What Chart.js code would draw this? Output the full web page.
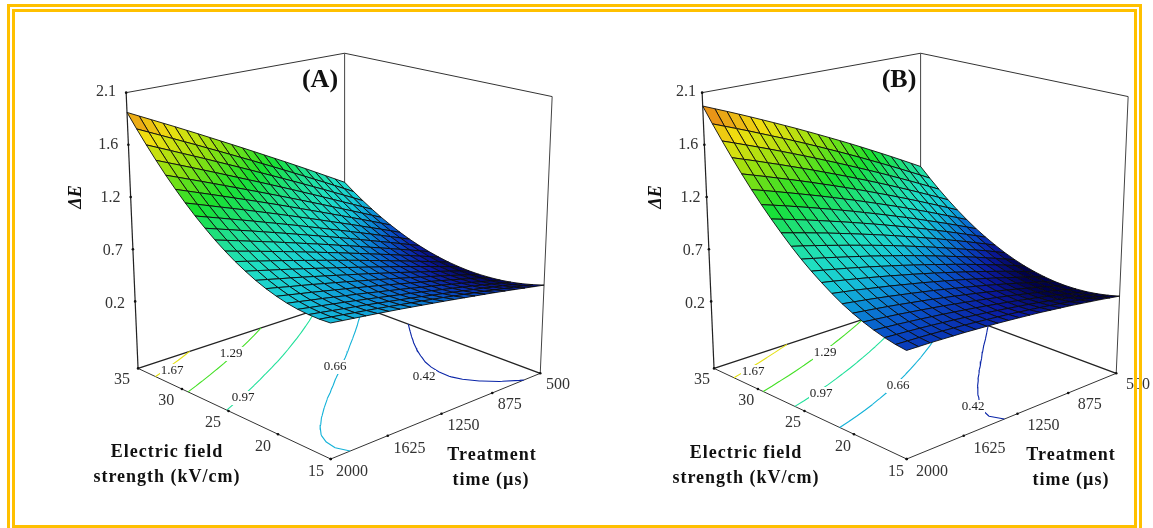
<!DOCTYPE html>
<html>
<head>
<meta charset="utf-8">
<title>Response surfaces</title>
<script src="https://cdn.jsdelivr.net/npm/chart.js@4"></script>
<style>
html, body { margin: 0; padding: 0; background: #fff; overflow: hidden; }
#wrap { position: relative; width: 1153px; height: 528px; overflow: hidden; }
#moldura { position: absolute; left: 7px; top: 4px; width: 1119px; height: 513px; border: 8px double #ffc000; pointer-events: none; }
canvas { display: block; }
</style>
</head>
<body>
<div id="wrap">
<canvas id="grafico" width="1153" height="528"></canvas>
<div id="moldura"></div>
</div>
<script>
// eixos
const fieldValues = [15, 16, 17, 18, 19, 20, 21, 22, 23, 24, 25, 26, 27, 28, 29, 30, 31, 32, 33, 34, 35];
const timeValues = [500, 575, 650, 725, 800, 875, 950, 1025, 1100, 1175, 1250, 1325, 1400, 1475, 1550, 1625, 1700, 1775, 1850, 1925, 2000];
const fieldTicks = [35, 30, 25, 20, 15];
const timeTicks = [2000, 1625, 1250, 875, 500];
const zTickValues = [0.2, 0.675, 1.15, 1.625, 2.1];
const zTickLabels = ['0.2', '0.7', '1.2', '1.6', '2.1'];
const contourLevels = [0.42, 0.66, 0.97, 1.29, 1.67];

// linhas = campo, colunas = tempo
const zValuesA = [
[.390,.407,.424,.441,.458,.474,.490,.505,.520,.535,.550,.564,.578,.592,.606,.619,.632,.644,.656,.668,.680],
[.362,.381,.399,.417,.435,.452,.469,.486,.502,.519,.535,.550,.565,.580,.595,.610,.624,.637,.651,.664,.677],
[.339,.359,.379,.398,.418,.436,.454,.472,.490,.507,.525,.542,.559,.575,.591,.607,.622,.637,.652,.667,.681],
[.321,.342,.363,.384,.405,.425,.445,.464,.483,.502,.521,.539,.557,.575,.593,.610,.627,.643,.659,.675,.691],
[.308,.331,.353,.376,.398,.419,.441,.462,.482,.503,.523,.543,.562,.582,.601,.619,.638,.656,.673,.691,.708],
[.301,.326,.350,.374,.397,.420,.443,.466,.488,.510,.532,.554,.575,.596,.616,.636,.656,.676,.695,.714,.733],
[.298,.324,.350,.376,.401,.426,.450,.475,.499,.523,.546,.569,.592,.615,.637,.659,.681,.702,.722,.744,.764],
[.300,.328,.356,.383,.410,.437,.463,.490,.515,.541,.566,.591,.615,.640,.664,.688,.712,.735,.757,.780,.802],
[.308,.338,.367,.397,.426,.454,.483,.511,.538,.566,.593,.620,.646,.673,.699,.724,.750,.775,.799,.824,.848],
[.320,.352,.383,.415,.445,.476,.506,.537,.566,.596,.625,.653,.682,.710,.738,.766,.793,.820,.846,.873,.899],
[.338,.371,.405,.438,.471,.504,.536,.568,.600,.631,.663,.693,.724,.754,.784,.814,.843,.872,.901,.929,.958],
[.360,.396,.432,.467,.502,.537,.571,.606,.640,.673,.707,.740,.772,.805,.837,.869,.900,.931,.962,.993,1.023],
[.388,.426,.464,.502,.539,.576,.613,.650,.686,.722,.757,.792,.827,.862,.896,.930,.964,.997,1.030,1.063,1.096],
[.420,.461,.501,.541,.581,.620,.659,.698,.736,.774,.812,.850,.887,.924,.960,.997,1.033,1.068,1.104,1.139,1.174],
[.458,.501,.544,.586,.628,.670,.711,.752,.793,.834,.874,.914,.954,.993,1.032,1.071,1.109,1.147,1.185,1.223,1.260],
[.501,.547,.592,.637,.681,.725,.769,.813,.856,.899,.942,.985,1.027,1.069,1.110,1.151,1.192,1.233,1.273,1.313,1.353],
[.548,.596,.644,.691,.738,.785,.832,.878,.924,.970,1.015,1.060,1.105,1.149,1.193,1.237,1.281,1.324,1.367,1.410,1.452],
[.601,.652,.702,.752,.802,.852,.901,.950,.999,1.047,1.095,1.143,1.190,1.237,1.284,1.331,1.377,1.423,1.469,1.514,1.559],
[.659,.713,.766,.819,.872,.924,.976,1.028,1.079,1.130,1.181,1.232,1.282,1.332,1.381,1.431,1.480,1.528,1.577,1.625,1.673],
[.722,.779,.835,.891,.946,1.001,1.056,1.111,1.165,1.219,1.273,1.326,1.379,1.432,1.484,1.537,1.588,1.640,1.691,1.742,1.793],
[.790,.849,.908,.967,1.026,1.084,1.142,1.199,1.256,1.313,1.370,1.426,1.482,1.538,1.594,1.649,1.704,1.758,1.812,1.866,1.920]
];
const zValuesB = [
[.290,.305,.320,.333,.346,.359,.370,.381,.392,.401,.410,.418,.426,.432,.438,.444,.448,.452,.456,.458,.460],
[.265,.282,.298,.314,.329,.343,.357,.370,.382,.393,.404,.414,.423,.432,.440,.447,.454,.460,.465,.469,.473],
[.246,.265,.284,.301,.318,.334,.350,.365,.379,.392,.405,.417,.428,.439,.449,.458,.467,.475,.482,.488,.494],
[.233,.254,.274,.294,.313,.331,.349,.366,.382,.397,.412,.426,.439,.452,.464,.475,.486,.496,.505,.513,.521],
[.226,.249,.271,.293,.314,.334,.354,.373,.391,.408,.425,.441,.456,.471,.485,.498,.511,.523,.534,.544,.554],
[.225,.250,.274,.298,.321,.343,.365,.386,.406,.425,.444,.462,.479,.496,.512,.527,.542,.556,.569,.581,.593],
[.230,.257,.284,.309,.334,.358,.382,.405,.427,.448,.469,.489,.509,.527,.545,.562,.579,.595,.610,.624,.638],
[.242,.271,.300,.327,.354,.381,.406,.431,.456,.479,.502,.524,.546,.566,.586,.606,.624,.642,.660,.676,.692],
[.260,.291,.322,.352,.381,.409,.437,.464,.490,.516,.541,.565,.589,.611,.634,.655,.676,.696,.715,.734,.752],
[.283,.317,.349,.381,.412,.443,.473,.502,.530,.558,.585,.611,.637,.662,.686,.710,.733,.755,.776,.797,.817],
[.313,.348,.383,.417,.451,.483,.515,.546,.577,.607,.636,.665,.692,.719,.746,.771,.796,.820,.844,.867,.889],
[.349,.387,.425,.460,.495,.530,.564,.598,.631,.663,.694,.725,.755,.784,.812,.840,.867,.894,.920,.945,.969],
[.392,.432,.471,.510,.547,.584,.621,.656,.691,.725,.759,.792,.824,.855,.886,.916,.946,.974,1.002,1.029,1.056],
[.440,.482,.523,.564,.604,.643,.682,.720,.757,.793,.829,.864,.898,.932,.965,.997,1.029,1.060,1.090,1.119,1.148],
[.494,.538,.582,.625,.667,.708,.749,.789,.828,.867,.905,.942,.979,1.015,1.050,1.084,1.118,1.151,1.184,1.215,1.246],
[.555,.601,.647,.692,.737,.780,.823,.866,.907,.948,.988,1.028,1.066,1.104,1.142,1.178,1.214,1.249,1.284,1.318,1.351],
[.622,.671,.719,.766,.813,.859,.904,.949,.992,1.036,1.078,1.120,1.161,1.201,1.241,1.280,1.318,1.355,1.392,1.428,1.464],
[.695,.746,.796,.846,.895,.943,.991,1.038,1.084,1.129,1.174,1.218,1.261,1.304,1.346,1.387,1.428,1.467,1.507,1.545,1.583],
[.774,.827,.880,.932,.983,1.034,1.084,1.133,1.181,1.229,1.276,1.322,1.368,1.413,1.457,1.501,1.544,1.586,1.627,1.668,1.708],
[.859,.915,.969,1.024,1.077,1.130,1.182,1.234,1.285,1.335,1.384,1.433,1.481,1.528,1.575,1.620,1.665,1.710,1.753,1.796,1.839],
[.950,1.008,1.065,1.122,1.178,1.233,1.288,1.342,1.395,1.447,1.499,1.550,1.601,1.650,1.699,1.747,1.795,1.842,1.888,1.933,1.978]
];

// escala de cores da superficie
const colorZ = [0.3, 0.4, 0.5, 0.6, 0.7, 0.85, 1.0, 1.2, 1.45, 1.7, 1.9, 2.0];
const colorRGB = [[0,0,74],[10,26,160],[8,80,200],[12,144,216],[24,200,216],[32,224,192],[32,224,144],[24,224,48],[144,224,16],[240,224,16],[232,144,24],[224,96,24]];

// cantos da caixa 3D em pixels (painel A): fundo, direita, frente, esquerda
const baseQuad = [[343,301],[540,375],[329,462],[135,370]];
const topQuad = [[343,50],[552,94],[328.5,144],[123,90]];
const zBase = -0.41;
const zTop = 2.1;
const panelOffset = [0, 580];

function homografia(q) {
    const [[x0,y0],[x1,y1],[x2,y2],[x3,y3]] = q;
    const dx1 = x1-x2, dx2 = x3-x2, sx = x0-x1+x2-x3;
    const dy1 = y1-y2, dy2 = y3-y2, sy = y0-y1+y2-y3;
    const den = dx1*dy2 - dx2*dy1;
    const g = (sx*dy2 - dx2*sy) / den;
    const h = (dx1*sy - sx*dy1) / den;
    const a = x1-x0+g*x1, b = x3-x0+h*x3, d = y1-y0+g*y1, e = y3-y0+h*y3;
    return (s, t) => {
        const w = g*s + h*t + 1;
        return [(a*s + b*t + x0) / w, (d*s + e*t + y0) / w];
    };
}
const hBase = homografia(baseQuad);
const hTop = homografia(topQuad);

function project(field, time, z, dx) {
    const s = (35 - field) / 20;
    const t = (time - 500) / 1500;
    const p = hBase(s, t);
    const q = hTop(s, t);
    const k = (z - zBase) / (zTop - zBase);
    return { x: p[0] + (q[0]-p[0])*k + dx, y: p[1] + (q[1]-p[1])*k };
}

function colorFor(z) {
    let i = 0;
    while (i < colorZ.length - 2 && z > colorZ[i+1]) i++;
    const k = Math.max(0, Math.min(1, (z - colorZ[i]) / (colorZ[i+1] - colorZ[i])));
    const c = colorRGB[i].map((v, n) => Math.round(v + (colorRGB[i+1][n] - v) * k));
    return `rgb(${c[0]},${c[1]},${c[2]})`;
}

function linha(data, color, width) {
    return { data, showLine: true, borderColor: color, borderWidth: width, pointRadius: 0, fill: false, tension: 0 };
}

// segmentos de contorno na base, a partir da tabela de valores
function contorno(zv, level, dx) {
    const data = [];
    for (let i = 0; i < fieldValues.length - 1; i++) {
        for (let j = 0; j < timeValues.length - 1; j++) {
            const c = [[i,j],[i+1,j],[i+1,j+1],[i,j+1]];
            const cruz = [];
            for (let n = 0; n < 4; n++) {
                const [a, b] = [c[n], c[(n+1)%4]];
                const za = zv[a[0]][a[1]], zb = zv[b[0]][b[1]];
                if ((za < level) !== (zb < level)) {
                    const k = (level - za) / (zb - za);
                    const f = fieldValues[a[0]] + (fieldValues[b[0]] - fieldValues[a[0]]) * k;
                    const t = timeValues[a[1]] + (timeValues[b[1]] - timeValues[a[1]]) * k;
                    cruz.push(project(f, t, zBase, dx));
                }
            }
            for (let n = 0; n + 1 < cruz.length; n += 2) {
                data.push(cruz[n], cruz[n+1], { x: NaN, y: NaN });
            }
        }
    }
    return data;
}

function montarPainel(zv, dx, out) {
    const corner = (f, t, z) => project(f, t, z, dx);
    // paredes e base atras da superficie
    out.push(linha([corner(35,2000,zTop), corner(35,500,zTop), corner(15,500,zTop)], '#333', 1));
    out.push(linha([corner(35,500,zBase), corner(35,500,zTop)], '#444', 1));
    out.push(linha([corner(15,500,zBase), corner(15,500,zTop)], '#444', 1));
    out.push(linha([corner(35,2000,zBase), corner(35,500,zBase), corner(15,500,zBase)], '#222', 1.4));
    out.push(linha([corner(35,2000,zBase), corner(15,2000,zBase), corner(15,500,zBase)], '#333', 1));
    contourLevels.forEach(level => {
        out.push(linha(contorno(zv, level, dx), colorFor(level), 1.1));
    });
    // celulas de tras para frente
    for (let i = fieldValues.length - 2; i >= 0; i--) {
        for (let j = 0; j < timeValues.length - 1; j++) {
            const a = corner(fieldValues[i+1], timeValues[j], zv[i+1][j]);
            const b = corner(fieldValues[i+1], timeValues[j+1], zv[i+1][j+1]);
            const c = corner(fieldValues[i], timeValues[j+1], zv[i][j+1]);
            const d = corner(fieldValues[i], timeValues[j], zv[i][j]);
            const media = (zv[i+1][j] + zv[i+1][j+1] + zv[i][j+1] + zv[i][j]) / 4;
            out.push({
                data: [a, b, c, d, a], showLine: true, borderColor: '#0c0c0c', borderWidth: 0.9,
                backgroundColor: colorFor(media), fill: 'shape', pointRadius: 0, tension: 0
            });
        }
    }
    out.push(linha([corner(35,2000,zBase), corner(35,2000,zTop)], '#222', 1.2));
    // marcas dos eixos
    const marcas = [];
    zTickValues.forEach(z => marcas.push(corner(35, 2000, z)));
    fieldTicks.forEach(f => marcas.push(corner(f, 2000, zBase)));
    timeTicks.forEach(t => marcas.push(corner(15, t, zBase)));
    out.push({ data: marcas, showLine: false, pointRadius: 1.3, backgroundColor: '#111', borderWidth: 0 });
}

const pintura = [];
montarPainel(zValuesA, panelOffset[0], pintura);
montarPainel(zValuesB, panelOffset[1], pintura);

// textos (centro em pixels)
const contourLabelPosA = [[424,377],[335,367],[243,398],[231,354],[172,371]];
const contourLabelPosB = [[973,407],[898,386],[821,394],[825,353],[753,372]];
const panelLetters = [['(A)',320,80],['(B)',899,80]];
const axisTitles = [
    ['Electric field',167,452],['strength (kV/cm)',167,477],['Treatment',492,455],['time (\u00b5s)',491,480],
    ['Electric field',746,453],['strength (kV/cm)',746,478],['Treatment',1071,455],['time (\u00b5s)',1071,480]
];

const textos = {
    id: 'textos',
    afterDraw(chart) {
        const ctx = chart.ctx;
        ctx.save();
        ctx.textBaseline = 'middle';
        const escreve = (txt, x, y, font, color, align) => {
            ctx.font = font;
            ctx.fillStyle = color;
            ctx.textAlign = align || 'center';
            ctx.fillText(txt, x, y);
        };
        panelOffset.forEach((dx, p) => {
            zTickValues.forEach((z, i) => {
                const q = project(35, 2000, z, dx);
                escreve(zTickLabels[i], q.x - 7, q.y + 2, '16px "Liberation Serif"', '#333', 'right');
            });
            fieldTicks.forEach(f => {
                const q = project(f, 2000, zBase, dx);
                escreve(String(f), q.x - 13, q.y + 10, '16px "Liberation Serif"', '#333');
            });
            timeTicks.forEach(t => {
                const q = project(15, t, zBase, dx);
                escreve(String(t), q.x + (t >= 1000 ? 23 : 18), q.y + 10, '16px "Liberation Serif"', '#333');
            });
            const pos = p === 0 ? contourLabelPosA : contourLabelPosB;
            contourLevels.forEach((level, i) => {
                ctx.fillStyle = '#fff';
                ctx.fillRect(pos[i][0] - 12, pos[i][1] - 7, 24, 14);
                escreve(level.toFixed(2), pos[i][0], pos[i][1], '13px "Liberation Serif"', '#222');
            });
            ctx.save();
            ctx.translate(76 + dx, 197);
            ctx.rotate(-Math.PI / 2);
            escreve('\u0394E', 0, 0, 'italic bold 18px "Liberation Serif"', '#111');
            ctx.restore();
        });
        panelLetters.forEach(l => escreve(l[0], l[1], l[2], 'bold 26px "Liberation Serif"', '#111'));
        ctx.letterSpacing = '1px';
        axisTitles.forEach(t => escreve(t[0], t[1], t[2], 'bold 18px "Liberation Serif"', '#111'));
        ctx.restore();
    }
};

// o Chart.js desenha o primeiro dataset por cima: inverter a ordem de pintura
new Chart(document.getElementById('grafico').getContext('2d'), {
    type: 'scatter',
    data: { datasets: pintura.slice().reverse() },
    options: {
        responsive: false,
        animation: false,
        events: [],
        layout: { padding: 0 },
        plugins: { legend: { display: false }, tooltip: { enabled: false } },
        scales: {
            x: { type: 'linear', min: 0, max: 1153, display: false },
            y: { type: 'linear', min: 0, max: 528, reverse: true, display: false }
        }
    },
    plugins: [textos]
});
</script>
</body>
</html>
